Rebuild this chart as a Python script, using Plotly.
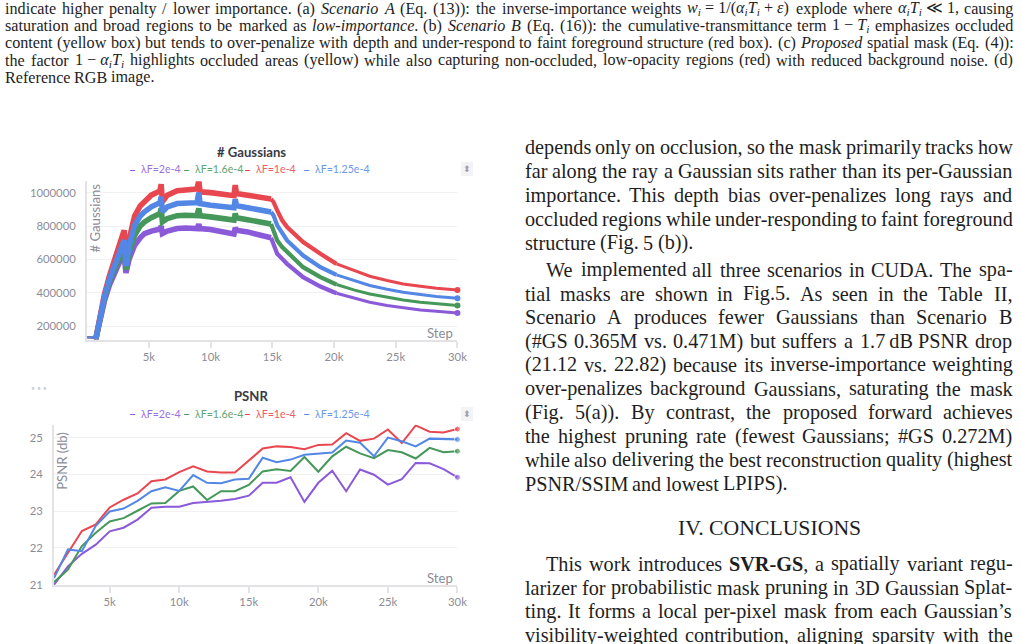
import re
import plotly.graph_objects as go

# reference page size (layout is designed in these pixel units)
W, H = 1021, 644
# the page is rendered slightly larger and scaled into the 1021x644 photograph
K = 1.0112
FIG_W, FIG_H = round(W * K), round(H * K)

# ---------------- data: "# Gaussians" panel ----------------
G_STEPS = [0, 500, 700, 1000, 1400, 1800, 2200, 2600, 3000, 3150, 3400, 3850, 4300, 4650,
           5200, 5900, 6000, 6100, 6500, 7300, 8000, 8900, 9050, 9150, 10000, 11000, 11900,
           12000, 12100, 13000, 14000, 14900, 15100, 15400, 15800, 16200, 17500, 18900,
           20200, 21600, 22900, 24300, 25600, 27000, 28300, 30000]
G_LF_2E4 = [135, 133, 122, 235, 350, 445, 520, 580, 625, 520, 600, 685, 730, 755, 770, 782, 800,
            755, 770, 785, 788, 785, 810, 785, 780, 768, 752, 790, 775, 765, 748, 730, 694, 634,
            604, 574, 494, 438, 398, 368, 344, 324, 310, 298, 290, 280]
G_LF_16E5 = [135, 133, 122, 240, 365, 465, 545, 610, 665, 540, 640, 745, 800, 825, 850, 875, 905,
             825, 845, 862, 865, 862, 905, 862, 855, 845, 836, 875, 850, 838, 825, 812, 774, 714,
             674, 644, 554, 494, 450, 418, 394, 374, 358, 344, 334, 324]
G_LF_1E4 = [135, 133, 122, 250, 390, 500, 590, 680, 775, 600, 720, 860, 920, 945, 985, 1010, 1050,
            945, 985, 1012, 1020, 1022, 1072, 1005, 1000, 992, 982, 1045, 995, 985, 975, 962, 944,
            894, 834, 794, 704, 634, 574, 534, 500, 474, 454, 440, 428, 418]
G_LF_125E6 = [135, 133, 122, 245, 375, 480, 565, 640, 715, 560, 680, 805, 860, 885, 915, 940, 975,
              885, 915, 935, 940, 940, 1000, 935, 925, 918, 910, 960, 922, 910, 898, 884, 864, 804,
              754, 714, 624, 554, 508, 474, 444, 422, 404, 390, 378, 368]   # thousands
G_TICK_VALS = [200000, 400000, 600000, 800000, 1000000]

# ---------------- data: "PSNR" panel ----------------
P_STEPS = [1000, 2000, 3000, 4000, 5000, 6000, 7000, 8000, 9000, 10000, 11000, 12000, 13000, 14000,
           15000, 16000, 17000, 18000, 19000, 20000, 21000, 22000, 23000, 24000, 25000, 26000,
           27000, 28000, 29000, 30000]
P_LF_2E4 = [21.00, 21.50, 21.84, 22.09, 22.45, 22.55, 22.77, 23.09, 23.12, 23.12, 23.22, 23.24,
            23.28, 23.33, 23.42, 23.77, 23.77, 23.92, 23.25, 23.77, 24.10, 23.54, 24.13, 23.99,
            23.72, 23.87, 24.31, 24.30, 24.14, 23.92]
P_LF_16E5 = [21.07, 21.41, 22.05, 22.41, 22.72, 22.81, 23.01, 23.21, 23.22, 23.55, 23.67, 23.30,
             23.54, 23.54, 23.71, 24.08, 24.14, 24.09, 24.47, 24.07, 24.49, 24.75, 24.57, 24.44,
             24.66, 24.60, 24.43, 24.72, 24.60, 24.63]
P_LF_1E4 = [21.27, 21.87, 22.46, 22.64, 23.10, 23.31, 23.48, 23.81, 23.86, 24.06, 24.22, 24.08,
            24.05, 24.05, 24.38, 24.70, 24.76, 24.74, 24.68, 24.80, 24.81, 25.12, 24.91, 24.97,
            25.22, 24.85, 25.33, 25.16, 25.14, 25.23]
P_LF_125E6 = [21.18, 21.96, 21.91, 22.60, 22.99, 23.07, 23.28, 23.54, 23.65, 23.55, 23.98, 23.77,
              23.76, 23.86, 23.88, 24.45, 24.33, 24.40, 24.53, 24.57, 24.59, 24.92, 24.86, 24.49,
              25.00, 24.90, 24.76, 24.97, 24.97, 24.95]
P_TICK_VALS = [21, 22, 23, 24, 25]

SERIES_NAMES = ["λF=2e-4", "λF=1.6e-4", "λF=1e-4", "λF=1.25e-4"]
X_TICK_VALS = [5000, 10000, 15000, 20000, 25000, 30000]
X_TICK_TEXT = ["5k", "10k", "15k", "20k", "25k", "30k"]

# ---------------- page text ----------------
NB = "\u00a0"
CAPTION_LINES = [
    "indicate higher penalty / lower importance. (a) <i>Scenario</i> <i>A</i> (Eq. (13)): the inverse-importance weights "
    "<i>w<sub>i</sub></i>" + NB + "=" + NB + "1/(<i>α<sub>i</sub>T<sub>i</sub></i>" + NB + "+" + NB + "<i>ε</i>) explode where "
    "<i>α<sub>i</sub>T<sub>i</sub></i>" + NB + "≪" + NB + "1, causing",
    "saturation and broad regions to be marked as <i>low-importance</i>. (b) <i>Scenario</i> <i>B</i> (Eq. (16)): "
    "the cumulative-transmittance term 1" + NB + "−" + NB + "<i>T<sub>i</sub></i> emphasizes occluded",
    "content (yellow box) but tends to over-penalize with depth and under-respond to faint foreground structure "
    "(red box). (c) <i>Proposed</i> spatial mask (Eq. (4)):",
    "the factor 1" + NB + "−" + NB + "<i>α<sub>i</sub>T<sub>i</sub></i> highlights occluded areas (yellow) while also "
    "capturing non-occluded, low-opacity regions (red) with reduced background noise. (d)",
    "Reference RGB image.",
]
PARA1 = [
    "depends only on occlusion, so the mask primarily tracks how",
    "far along the ray a Gaussian sits rather than its per-Gaussian",
    "importance. This depth bias over-penalizes long rays and",
    "occluded regions while under-responding to faint foreground",
    "structure (Fig. 5 (b)).",
]
PARA2 = [
    "We implemented all three scenarios in CUDA. The spa-",
    "tial masks are shown in Fig.5. As seen in the Table II,",
    "Scenario A produces fewer Gaussians than Scenario B",
    "(#GS 0.365M vs. 0.471M) but suffers a 1.7\u2009dB PSNR drop",
    "(21.12 vs. 22.82) because its inverse-importance weighting",
    "over-penalizes background Gaussians, saturating the mask",
    "(Fig. 5(a)). By contrast, the proposed forward achieves",
    "the highest pruning rate (fewest Gaussians; #GS 0.272M)",
    "while also delivering the best reconstruction quality (highest",
    "PSNR/SSIM and lowest LPIPS).",
]
HEADING = "IV. CONCLUSIONS"
PARA3 = [
    "This work introduces <b>SVR-GS</b>, a spatially variant regu-",
    "larizer for probabilistic mask pruning in 3D Gaussian Splat-",
    "ting. It forms a local per-pixel mask from each Gaussian’s",
    "visibility-weighted contribution, aligning sparsity with the",
]

# ---------------- styles ----------------
COLORS = ["#8a5ad9", "#46975a", "#e9474f", "#5387e5"]
LEGEND_COLORS = ["#9a72df", "#5ea571", "#ec5d64", "#6b98e8"]
TICK_COLOR = "#8c8c98"
AXIS_LINE = "#e3e3e6"
GRID = "#f1f1f3"
CHART_FONT = "Lato"
SERIF = "Liberation Serif"
TEXT_COLOR = "#1e1e1e"
# noisy band thickness of the "# Gaussians" curves: (first index, last index, width)
G_SEGMENTS = [(0, 2, 2.0), (2, 31, 5.5), (31, 38, 4.2), (38, 45, 3.0)]

# Times-Roman / Italic / Bold advance widths (per 1000 em) for justification
_R = dict(zip(" !\"#$%&'()*+,-./0123456789:;<=>?@", [250, 333, 408, 500, 500, 833, 778, 180, 333, 333, 500, 564, 250, 333, 250, 278] + [500] * 10 + [278, 278, 564, 564, 564, 444, 921]))
_R.update(dict(zip("ABCDEFGHIJKLMNOPQRSTUVWXYZ", [722, 667, 667, 722, 611, 556, 722, 722, 333, 389, 722, 611, 889, 722, 722, 556, 722, 667, 556, 611, 722, 722, 944, 722, 722, 611])))
_R.update(dict(zip("abcdefghijklmnopqrstuvwxyz", [444, 500, 444, 500, 444, 333, 500, 500, 278, 278, 500, 278, 778, 500, 500, 500, 500, 333, 389, 278, 500, 500, 722, 500, 500, 444])))
_R.update({"[": 333, "]": 333, "_": 500, "\u00a0": 250, "\u2009": 167, "α": 560, "ε": 450, "≪": 1000, "−": 564, "’": 333, "λ": 500})
_I = dict(_R)
_I.update(dict(zip("abcdefghijklmnopqrstuvwxyz", [500, 500, 444, 500, 444, 278, 500, 500, 278, 278, 444, 278, 722, 500, 500, 500, 500, 389, 389, 278, 500, 444, 667, 444, 444, 389])))
_I.update(dict(zip("ABCDEFGHIJKLMNOPQRSTUVWXYZ", [611, 611, 667, 722, 611, 611, 722, 722, 333, 444, 667, 556, 833, 667, 722, 611, 722, 611, 500, 556, 722, 611, 833, 611, 556, 556])))
_B = dict(_R)
_B.update(dict(zip("ABCDEFGHIJKLMNOPQRSTUVWXYZ", [722, 667, 722, 722, 667, 611, 778, 778, 389, 500, 778, 667, 944, 722, 778, 611, 778, 722, 556, 667, 722, 722, 1000, 722, 722, 667])))
_B["-"] = 333


def measure(html, fs):
    w = 0.0
    ital = bold = sub = False
    for part in re.split(r"(<[^>]+>)", html):
        if part.startswith("<"):
            tag = part.strip("<>").lower()
            ital = True if tag == "i" else (False if tag == "/i" else ital)
            bold = True if tag == "b" else (False if tag == "/b" else bold)
            sub = True if tag == "sub" else (False if tag == "/sub" else sub)
            continue
        table = _B if bold else (_I if ital else _R)
        for ch in part:
            w += table.get(ch, 500) * (0.7 if sub else 1.0)
    return w * fs / 1000.0


annotations = []


def px_ann(text, x, y, size, color, family, xanchor="left", yanchor="middle", **kw):
    d = dict(text=text, x=x / W, y=1 - y / H, xref="paper", yref="paper", xanchor=xanchor,
             yanchor=yanchor, showarrow=False, borderpad=0, borderwidth=0,
             font=dict(family=family, size=size * K, color=color))
    d.update(kw)
    annotations.append(d)


def place_line(line, x0, x1, yc, fs, justify):
    tokens = line.split(" ")
    widths = [measure(t, fs) for t in tokens]
    if justify and len(tokens) > 1:
        gap = (x1 - x0 - sum(widths)) / (len(tokens) - 1)
    else:
        gap = 0.25 * fs
    x = x0
    for t, w in zip(tokens, widths):
        px_ann(t, x, yc, fs, TEXT_COLOR, SERIF)
        x += w + gap


# caption (top, full width)
CAP_FS = 16
for i, line in enumerate(CAPTION_LINES):
    place_line(line, 5, 1012, 8.5 + i * 17.2, CAP_FS, i < len(CAPTION_LINES) - 1)

# right column
COL_FS = 20
CL, CR, IND = 524, 1011, 545
for i, line in enumerate(PARA1):
    place_line(line, CL, CR, 147 + i * 23.9, COL_FS, i < len(PARA1) - 1)
for i, line in enumerate(PARA2):
    place_line(line, IND if i == 0 else CL, CR, 269.5 + i * 23.7, COL_FS, i < len(PARA2) - 1)
px_ann(HEADING, 769, 527, 21.5, TEXT_COLOR, SERIF, xanchor="center")
for i, line in enumerate(PARA3):
    place_line(line, IND if i == 0 else CL, CR, 563 + i * 23.7, COL_FS, True)

# ---------------- figure ----------------
fig = go.Figure()

g_series = [G_LF_2E4, G_LF_16E5, G_LF_1E4, G_LF_125E6]
p_series = [P_LF_2E4, P_LF_16E5, P_LF_1E4, P_LF_125E6]

for name, vals, col in zip(SERIES_NAMES, g_series, COLORS):
    yv = [v * 1000 for v in vals]
    for a, b, lw in G_SEGMENTS:
        fig.add_trace(go.Scatter(x=G_STEPS[a:b + 1], y=yv[a:b + 1], mode="lines", name=name,
                                 legendgroup=name, line=dict(color=col, width=lw * K),
                                 xaxis="x", yaxis="y", showlegend=False))
    fig.add_trace(go.Scatter(x=G_STEPS[-1:], y=yv[-1:], mode="markers", name=name,
                             legendgroup=name, marker=dict(color=col, size=6),
                             xaxis="x", yaxis="y", showlegend=False, cliponaxis=False))
for name, vals, col in zip(SERIES_NAMES, p_series, COLORS):
    fig.add_trace(go.Scatter(x=P_STEPS, y=vals, mode="lines+markers", name=name,
                             line=dict(color=col, width=2 * K),
                             marker=dict(color=col, size=[0] * (len(vals) - 1) + [6]),
                             xaxis="x2", yaxis="y2", showlegend=False, cliponaxis=False))

axis_common = dict(showline=True, linecolor=AXIS_LINE, linewidth=2, zeroline=False,
                   tickfont=dict(family=CHART_FONT, size=11.2 * K, color=TICK_COLOR))
xcommon = dict(axis_common, showgrid=False, ticks="outside", ticklen=6, tickwidth=1.5,
               tickcolor=AXIS_LINE, tickvals=X_TICK_VALS, ticktext=X_TICK_TEXT)
ycommon = dict(axis_common, showgrid=True, gridcolor=GRID, gridwidth=1, ticks="",
               ticklabelstandoff=7)

fig.update_layout(
    width=FIG_W, height=FIG_H, margin=dict(l=0, r=0, t=0, b=0),
    paper_bgcolor="white", plot_bgcolor="white", showlegend=False,
    xaxis=dict(xcommon, domain=[87 / W, 457 / W], range=[0, 30000], anchor="y"),
    yaxis=dict(ycommon, domain=[1 - 339 / H, 1 - 181 / H], range=[121000, 1068000],
               tickvals=G_TICK_VALS, ticktext=[str(v) for v in G_TICK_VALS], anchor="x"),
    xaxis2=dict(xcommon, domain=[54 / W, 457 / W], range=[1000, 30000], anchor="y2"),
    yaxis2=dict(ycommon, domain=[1 - 584 / H, 1 - 424 / H], range=[20.995, 25.35],
                tickvals=P_TICK_VALS, ticktext=[str(v) for v in P_TICK_VALS], anchor="x2"),
)

# panel decorations: titles, legends, axis labels
for title, yc in (("# Gaussians", 152), ("PSNR", 395)):
    px_ann("<b>%s</b>" % title, 251, yc, 13, "#3a3a44", CHART_FONT, xanchor="center")

LEGEND_X = [129, 183, 244, 303]
for ly in (169, 413):
    for name, lx, col, tcol in zip(SERIES_NAMES, LEGEND_X, COLORS, LEGEND_COLORS):
        px_ann("<b>–</b>", lx, ly, 12, col, CHART_FONT)
        px_ann(name, lx + 12, ly, 10.5, tcol, CHART_FONT)
    px_ann("⬍", 467, ly, 9, "#a0a0aa", "DejaVu Sans", xanchor="center", bgcolor="#f3f3f5",
           borderpad=2)

px_ann("# Gaussians", 95, 218, 13, TICK_COLOR, CHART_FONT, xanchor="center", textangle=-90)
px_ann("PSNR (db)", 62, 460, 13, TICK_COLOR, CHART_FONT, xanchor="center", textangle=-90)
px_ann("Step", 453, 332, 13, TICK_COLOR, CHART_FONT, xanchor="right")
px_ann("Step", 453, 577, 13, TICK_COLOR, CHART_FONT, xanchor="right")
px_ann("• • •", 39, 388, 7, "#d0d0d6", CHART_FONT, xanchor="center")

fig.update_layout(annotations=annotations)

fig.write_html("out.html", config={"displayModeBar": False},
               post_script="document.body.style.margin='0';document.body.style.overflow='hidden';"
                           "document.documentElement.style.overflow='hidden';")
